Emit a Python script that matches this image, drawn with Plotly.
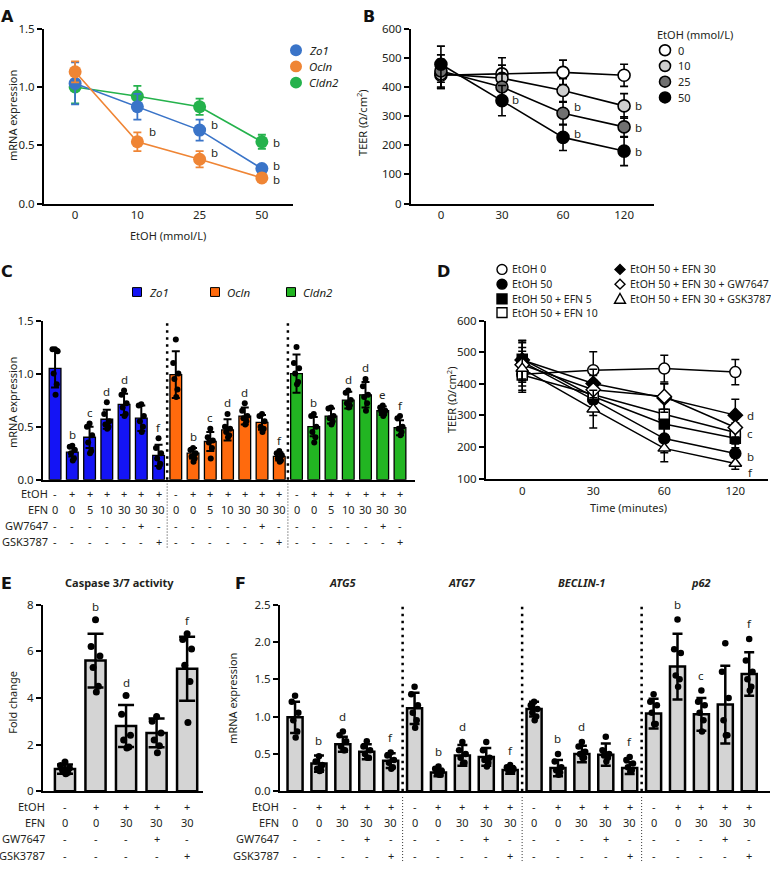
import plotly.graph_objects as go

W, H = 771, 870
FONT = "Noto Sans"
INK = "#231f20"


def px(x):
    return x / W


def py(y):
    return 1 - y / H


# ---------------- data ----------------
# Panel A
A_doses = ["0", "10", "25", "50"]
A_zo1 = [1.03, 0.83, 0.63, 0.30]
A_zo1_sd = [0.18, 0.11, 0.09, 0.02]
A_ocln = [1.13, 0.53, 0.38, 0.22]
A_ocln_sd = [0.09, 0.08, 0.07, 0.02]
A_cldn2 = [1.00, 0.92, 0.83, 0.53]
A_cldn2_sd = [0.14, 0.09, 0.07, 0.06]
A_sig = [("Ocln", 1, "b"), ("Zo1", 2, "b"), ("Ocln", 2, "b"),
         ("Cldn2", 3, "b"), ("Zo1", 3, "b"), ("Ocln", 3, "b")]

# Panel B
B_times = ["0", "30", "60", "120"]
B_doses = ["0", "10", "25", "50"]
B_teer_0 = [440, 445, 450, 440]
B_teer_0_sd = [45, 55, 42, 38]
B_teer_10 = [445, 430, 388, 335]
B_teer_10_sd = [50, 45, 40, 42]
B_teer_25 = [455, 400, 310, 263]
B_teer_25_sd = [55, 45, 40, 35]
B_teer_50 = [478, 353, 227, 180]
B_teer_50_sd = [62, 52, 45, 50]
B_sig = [("50", 1, "b"), ("25", 2, "b"), ("50", 2, "b"),
         ("10", 3, "b"), ("25", 3, "b"), ("50", 3, "b")]

# Panel C
C_genes = ["Zo1", "Ocln", "Cldn2"]
C_zo1_mean = [1.05, 0.26, 0.40, 0.57, 0.71, 0.58, 0.23]
C_zo1_sd = [0.18, 0.04, 0.10, 0.09, 0.10, 0.12, 0.10]
C_zo1_pts = [[1.23, 1.23, 1.21, 1.0, 0.9, 0.8], [0.32, 0.31, 0.28, 0.25, 0.2, 0.18],
             [0.53, 0.5, 0.42, 0.35, 0.27, 0.25], [0.73, 0.62, 0.55, 0.52, 0.5, 0.48],
             [0.84, 0.8, 0.72, 0.68, 0.62, 0.6], [0.71, 0.7, 0.6, 0.55, 0.5, 0.45],
             [0.39, 0.3, 0.25, 0.2, 0.15, 0.12]]
C_zo1_sig = ["", "b", "c", "d", "d", "", "f"]
C_ocln_mean = [0.99, 0.25, 0.36, 0.47, 0.60, 0.54, 0.22]
C_ocln_sd = [0.22, 0.05, 0.09, 0.10, 0.08, 0.07, 0.04]
C_ocln_pts = [[1.32, 1.1, 1.0, 0.95, 0.85, 0.78], [0.3, 0.28, 0.25, 0.22, 0.2, 0.17],
              [0.48, 0.4, 0.37, 0.35, 0.3, 0.2], [0.62, 0.5, 0.48, 0.45, 0.42, 0.4],
              [0.72, 0.65, 0.6, 0.58, 0.55, 0.52], [0.62, 0.6, 0.55, 0.5, 0.48, 0.45],
              [0.27, 0.25, 0.23, 0.2, 0.18, 0.17]]
C_ocln_sig = ["", "b", "c", "d", "d", "", "f"]
C_cldn2_mean = [1.00, 0.50, 0.60, 0.75, 0.80, 0.65, 0.49]
C_cldn2_sd = [0.18, 0.09, 0.07, 0.08, 0.12, 0.04, 0.07]
C_cldn2_pts = [[1.25, 1.1, 1.05, 1.0, 0.92, 0.9], [0.62, 0.6, 0.5, 0.45, 0.4, 0.35],
               [0.68, 0.67, 0.6, 0.58, 0.55, 0.52], [0.84, 0.82, 0.75, 0.72, 0.7, 0.68],
               [0.95, 0.88, 0.8, 0.78, 0.72, 0.65], [0.7, 0.68, 0.65, 0.64, 0.62, 0.6],
               [0.6, 0.58, 0.5, 0.48, 0.45, 0.42]]
C_cldn2_sig = ["", "b", "", "d", "d", "e", "f"]
C_rows = ["EtOH", "EFN", "GW7647", "GSK3787"]
C_treat = {
    "EtOH": ["-", "+", "+", "+", "+", "+", "+"],
    "EFN": ["0", "0", "5", "10", "30", "30", "30"],
    "GW7647": ["-", "-", "-", "-", "-", "+", "-"],
    "GSK3787": ["-", "-", "-", "-", "-", "-", "+"],
}

# Panel D
D_times = ["0", "30", "60", "120"]
D_names = ["EtOH 0", "EtOH 50", "EtOH 50 + EFN 5", "EtOH 50 + EFN 10",
           "EtOH 50 + EFN 30", "EtOH 50 + EFN 30 + GW7647", "EtOH 50 + EFN 30 + GSK3787"]
D_etoh0 = [430, 443, 448, 437]
D_etoh0_sd = [50, 58, 42, 40]
D_etoh50 = [470, 350, 227, 180]
D_etoh50_sd = [60, 50, 45, 30]
D_efn5 = [478, 360, 273, 228]
D_efn5_sd = [60, 45, 40, 30]
D_efn10 = [428, 367, 304, 246]
D_efn10_sd = [55, 45, 40, 30]
D_efn30 = [475, 401, 355, 301]
D_efn30_sd = [60, 45, 45, 50]
D_gw = [460, 381, 360, 262]
D_gw_sd = [55, 45, 40, 30]
D_gsk = [448, 320, 196, 148]
D_gsk_sd = [55, 60, 42, 18]
D_sig = [("EtOH 50 + EFN 30", "d"), ("EtOH 50 + EFN 30 + GW7647", "c"),
         ("EtOH 50", "b"), ("EtOH 50 + EFN 30 + GSK3787", "f")]

# Panel E
E_mean = [0.95, 5.6, 2.8, 2.5, 5.25]
E_sd = [0.2, 1.15, 0.9, 0.62, 1.37]
E_pts = [[1.25, 1.1, 1.0, 0.9, 0.8, 0.75], [7.35, 6.2, 5.8, 5.3, 4.5, 4.25],
         [4.1, 3.3, 2.4, 2.2, 1.9, 1.85], [3.2, 3.0, 2.5, 2.2, 1.95, 1.65],
         [6.75, 6.5, 6.1, 5.4, 4.7, 2.95]]
E_sig = ["", "b", "d", "", "f"]
EF_treat = {
    "EtOH": ["-", "+", "+", "+", "+"],
    "EFN": ["0", "0", "30", "30", "30"],
    "GW7647": ["-", "-", "-", "+", "-"],
    "GSK3787": ["-", "-", "-", "-", "+"],
}

# Panel F
F_genes = ["ATG5", "ATG7", "BECLIN-1", "p62"]
F_atg5_mean = [0.99, 0.37, 0.63, 0.53, 0.41]
F_atg5_sd = [0.21, 0.11, 0.10, 0.10, 0.10]
F_atg5_pts = [[1.28, 1.2, 1.05, 0.95, 0.8, 0.72], [0.47, 0.4, 0.35, 0.3, 0.28, 0.27],
              [0.8, 0.75, 0.67, 0.6, 0.55, 0.55], [0.67, 0.6, 0.55, 0.5, 0.45, 0.45],
              [0.52, 0.48, 0.42, 0.38, 0.32, 0.3]]
F_atg5_sig = ["", "b", "d", "", "f"]
F_atg7_mean = [1.11, 0.25, 0.48, 0.46, 0.285]
F_atg7_sd = [0.21, 0.05, 0.14, 0.12, 0.05]
F_atg7_pts = [[1.4, 1.3, 1.15, 1.05, 0.95, 0.85], [0.33, 0.3, 0.27, 0.25, 0.22, 0.22],
              [0.66, 0.55, 0.5, 0.45, 0.38, 0.37], [0.66, 0.55, 0.45, 0.42, 0.38, 0.33],
              [0.35, 0.32, 0.3, 0.28, 0.27, 0.26]]
F_atg7_sig = ["", "b", "d", "", "f"]
F_beclin_mean = [1.10, 0.31, 0.50, 0.49, 0.31]
F_beclin_sd = [0.10, 0.11, 0.11, 0.15, 0.08]
F_beclin_pts = [[1.2, 1.15, 1.1, 1.05, 1.0, 0.95], [0.5, 0.4, 0.32, 0.28, 0.25, 0.22],
                [0.66, 0.6, 0.53, 0.5, 0.45, 0.45], [0.73, 0.55, 0.5, 0.48, 0.45, 0.4],
                [0.46, 0.42, 0.37, 0.32, 0.28, 0.26]]
F_beclin_sig = ["", "b", "d", "", "f"]
F_p62_mean = [1.04, 1.67, 1.03, 1.16, 1.57]
F_p62_sd = [0.20, 0.44, 0.22, 0.52, 0.29]
F_p62_pts = [[1.3, 1.2, 1.15, 1.05, 0.9, 0.9], [2.3, 1.9, 1.85, 1.55, 1.5, 1.4],
             [1.35, 1.2, 1.15, 1.05, 0.95, 0.8], [1.98, 1.6, 1.25, 0.95, 0.75, 0.75],
             [2.04, 1.75, 1.6, 1.5, 1.4, 1.35]]
F_p62_sig = ["", "b", "c", "", "f"]

# ---------------- styles ----------------
A_colors = {"Zo1": "#3a74c8", "Ocln": "#ef8535", "Cldn2": "#25b24c"}
A_sig_shift = {("Ocln", 1): 10, ("Zo1", 2): 6, ("Ocln", 2): 7, ("Cldn2", 3): -1,
               ("Zo1", 3): 3, ("Ocln", 3): -2}
B_fill = {"0": "white", "10": "#cfcfcf", "25": "#707070", "50": "black"}
B_sig_shift = {("50", 1): 1, ("25", 2): 7, ("50", 2): 4, ("10", 3): 0, ("25", 3): -1, ("50", 3): 0}
C_colors = {"Zo1": "#1414f5", "Ocln": "#ff6a0d", "Cldn2": "#22b522"}
D_style = {
    "EtOH 0": ("circle", "white", 11),
    "EtOH 50": ("circle", "black", 11),
    "EtOH 50 + EFN 5": ("square", "black", 10),
    "EtOH 50 + EFN 10": ("square", "white", 10),
    "EtOH 50 + EFN 30": ("diamond", "black", 11),
    "EtOH 50 + EFN 30 + GW7647": ("diamond", "white", 11),
    "EtOH 50 + EFN 30 + GSK3787": ("triangle-up", "white", 11),
}
D_sig_shift = {"d": 0, "c": -6, "b": -3, "f": -9}
GREY = "#d4d4d4"
JIT = [0.0, -0.22, 0.22, -0.12, 0.14, 0.04]
FS = 11
TICK_FS = 11.5

fig = go.Figure()
annots = []
shapes = []


def text(x, y, s, size=FS, xanchor="center", xref="paper", yref="paper", angle=0,
         bold=False, italic=False, color=INK, xshift=0, yshift=0, yanchor="middle", family=FONT):
    if bold:
        s = "<b>" + s + "</b>"
    if italic:
        s = "<i>" + s + "</i>"
    annots.append(dict(x=x, y=y, xref=xref, yref=yref, text=s, showarrow=False,
                       xanchor=xanchor, yanchor=yanchor, textangle=angle,
                       xshift=xshift, yshift=yshift,
                       font=dict(family=family, size=size, color=color)))


axes = {}


def make_axes(n, xd, yd, xr, yr, yt, yfmt, xt=None, xtt=None):
    sx = "" if n == 1 else str(n)
    xa = dict(domain=[px(xd[0]), px(xd[1])], range=xr, anchor="y" + sx, showgrid=False,
              zeroline=False, showline=True, linecolor="black", linewidth=2, ticks="",
              fixedrange=True)
    if xt is not None:
        xa.update(tickmode="array", tickvals=xt, ticktext=xtt,
                  tickfont=dict(size=TICK_FS, color=INK, family=FONT))
    else:
        xa.update(showticklabels=False)
    ya = dict(domain=[py(yd[1]), py(yd[0])], range=yr, anchor="x" + sx, showgrid=False,
              zeroline=False, showline=True, linecolor="black", linewidth=2,
              ticks="outside", ticklen=5, tickwidth=2, tickcolor="black",
              tickmode="array", tickvals=yt, tickformat=yfmt, fixedrange=True,
              tickfont=dict(size=TICK_FS, color=INK, family=FONT))
    axes["xaxis" + sx] = xa
    axes["yaxis" + sx] = ya


make_axes(1, (44, 293), (21, 199), [-0.5, 3.5], [0, 1.5], [0, 0.5, 1.0, 1.5], ".1f",
          list(range(4)), A_doses)
make_axes(2, (411, 654), (21, 199), [-0.49, 3.49], [0, 600], list(range(0, 601, 100)), "d",
          list(range(4)), B_times)
make_axes(3, (43, 415), (318, 480), [-0.70, 20.87], [0, 1.5], [0, 0.5, 1.0, 1.5], ".1f")
make_axes(4, (486, 768), (318, 479), [-0.51, 3.46], [100, 600], list(range(100, 601, 100)), "d",
          list(range(4)), D_times)
make_axes(5, (43, 203), (607, 797), [-0.72, 4.52], [0, 8], [0, 2, 4, 6, 8], "d")
make_axes(6, (280, 770), (607, 797), [-0.63, 19.87], [0, 2.5], [0, 0.5, 1.0, 1.5, 2.0, 2.5], ".1f")

# ---------------- Panel A ----------------
A_series = {"Zo1": (A_zo1, A_zo1_sd), "Ocln": (A_ocln, A_ocln_sd), "Cldn2": (A_cldn2, A_cldn2_sd)}
for name in ["Cldn2", "Zo1", "Ocln"]:
    vals, sd = A_series[name]
    c = A_colors[name]
    fig.add_trace(go.Scatter(x=list(range(4)), y=vals, mode="lines+markers",
                             error_y=dict(type="data", array=sd, color=c, thickness=1.8, width=4),
                             marker=dict(size=13, color=c), line=dict(color=c, width=1.6),
                             xaxis="x", yaxis="y", showlegend=False))
for name, i, s in A_sig:
    text(i, A_series[name][0][i], s, size=11.5, xref="x", yref="y", xshift=15,
         yshift=A_sig_shift[(name, i)])
for k, name in enumerate(["Zo1", "Ocln", "Cldn2"]):
    cy = 43 + 16.5 * k
    shapes.append(dict(type="circle", xref="paper", yref="paper", x0=px(290), x1=px(302),
                       y0=py(cy + 6), y1=py(cy - 6), fillcolor=A_colors[name],
                       line=dict(width=0)))
    text(px(307), py(cy), name, size=11.5, xanchor="left", italic=True)
text(px(12), py(110), "mRNA expression", angle=-90)
text(px(168), py(231), "EtOH (mmol/L)")

# ---------------- Panel B ----------------
B_series = {"0": (B_teer_0, B_teer_0_sd), "10": (B_teer_10, B_teer_10_sd),
            "25": (B_teer_25, B_teer_25_sd), "50": (B_teer_50, B_teer_50_sd)}
for d in B_doses:
    vals, sd = B_series[d]
    fig.add_trace(go.Scatter(x=list(range(4)), y=vals, mode="lines+markers",
                             error_y=dict(type="data", array=sd, color="black", thickness=1.6, width=4),
                             marker=dict(size=12, color=B_fill[d], line=dict(color="black", width=1.6)),
                             line=dict(color="black", width=1.6),
                             xaxis="x2", yaxis="y2", showlegend=False))
for d, i, s in B_sig:
    text(i, B_series[d][0][i], s, size=11.5, xref="x2", yref="y2", xshift=14,
         yshift=B_sig_shift[(d, i)])
text(px(655), py(27), "EtOH (mmol/L)", xanchor="left")
for k, d in enumerate(B_doses):
    cy = 43 + 16 * k
    shapes.append(dict(type="circle", xref="paper", yref="paper", x0=px(659.5), x1=px(670.5),
                       y0=py(cy + 5.5), y1=py(cy - 5.5), fillcolor=B_fill[d],
                       line=dict(color="black", width=1.6)))
    text(px(676), py(cy), d, xanchor="left")
text(px(362), py(117), "TEER (Ω/cm<sup>2</sup>)", angle=-90)


# ---------------- bar panel helper ----------------
def bar_group(xa, ya, pos, mean, sd, pts, sig, color, width, lw, eth, ew, dsize, sigshift, sigsize):
    fig.add_trace(go.Bar(x=pos, y=mean, width=width, xaxis=xa, yaxis=ya, showlegend=False,
                         marker=dict(color=color, line=dict(color="black", width=lw)),
                         error_y=dict(type="data", array=sd, color="black", thickness=eth, width=ew)))
    dx, dy = [], []
    for p, vals in zip(pos, pts):
        for k, v in enumerate(vals):
            dx.append(p + JIT[k % len(JIT)] * width)
            dy.append(v)
    fig.add_trace(go.Scatter(x=dx, y=dy, mode="markers", xaxis=xa, yaxis=ya, showlegend=False,
                             marker=dict(size=dsize, color="black")))
    for p, m, s, vals, lab in zip(pos, mean, sd, pts, sig):
        if lab:
            top = max(m + s, max(vals))
            text(p, top, lab, size=sigsize, xref=xa, yref=ya, yshift=sigshift)


# ---------------- Panel C ----------------
C_data = {"Zo1": (C_zo1_mean, C_zo1_sd, C_zo1_pts, C_zo1_sig),
          "Ocln": (C_ocln_mean, C_ocln_sd, C_ocln_pts, C_ocln_sig),
          "Cldn2": (C_cldn2_mean, C_cldn2_sd, C_cldn2_pts, C_cldn2_sig)}
for g, name in enumerate(C_genes):
    mean, sd, pts, sig = C_data[name]
    pos = [g * 7 + i for i in range(len(mean))]
    bar_group("x3", "y3", pos, mean, sd, pts, sig, C_colors[name], 0.68, 1.3, 2, 4, 6, 11, 11.5)
    for r, row in enumerate(C_rows):
        for i, v in enumerate(C_treat[row]):
            text(pos[i], py(494 + 16.4 * r), v, xref="x3")
for r, row in enumerate(C_rows):
    text(px(50), py(494 + 16.4 * r), row, xanchor="right")
for sx in [6.5, 13.5]:
    shapes.append(dict(type="line", xref="x3", yref="paper", x0=sx, x1=sx, y0=py(480), y1=py(318),
                       line=dict(color="black", width=2.5, dash="2.5px,4.5px")))
    shapes.append(dict(type="line", xref="x3", yref="paper", x0=sx, x1=sx, y0=py(549), y1=py(484),
                       line=dict(color="#333333", width=1, dash="1px,2px")))
for k, (name, lx) in enumerate(zip(C_genes, [137, 215, 291])):
    shapes.append(dict(type="rect", xref="paper", yref="paper", x0=px(lx - 4.5), x1=px(lx + 4.5),
                       y0=py(289 + 4.5), y1=py(289 - 4.5), fillcolor=C_colors[name],
                       line=dict(color="black", width=1)))
    text(px(lx + 10), py(289), name, size=11.5, xanchor="left", italic=True)
text(px(12), py(402), "mRNA expression", angle=-90)

# ---------------- Panel D ----------------
D_data = {"EtOH 0": (D_etoh0, D_etoh0_sd), "EtOH 50": (D_etoh50, D_etoh50_sd),
          "EtOH 50 + EFN 5": (D_efn5, D_efn5_sd), "EtOH 50 + EFN 10": (D_efn10, D_efn10_sd),
          "EtOH 50 + EFN 30": (D_efn30, D_efn30_sd), "EtOH 50 + EFN 30 + GW7647": (D_gw, D_gw_sd),
          "EtOH 50 + EFN 30 + GSK3787": (D_gsk, D_gsk_sd)}
for name in D_names:
    vals, sd = D_data[name]
    sym, fill, size = D_style[name]
    fig.add_trace(go.Scatter(x=list(range(4)), y=vals, mode="lines+markers",
                             error_y=dict(type="data", array=sd, color="black", thickness=1.5, width=4),
                             marker=dict(size=size, symbol=sym, color=fill, line=dict(color="black", width=1.5)),
                             line=dict(color="black", width=1.5),
                             xaxis="x4", yaxis="y4", showlegend=False))
for name, s in D_sig:
    text(3, D_data[name][0][3], s, size=11.5, xref="x4", yref="y4", xshift=15, yshift=D_sig_shift[s])


def legend_symbol(sym, fill, cx, cy, r=5):
    base = dict(xref="paper", yref="paper", fillcolor=fill, line=dict(color="black", width=1.4))
    if sym == "circle":
        shapes.append(dict(type="circle", x0=px(cx - r), x1=px(cx + r), y0=py(cy + r), y1=py(cy - r), **base))
    elif sym == "square":
        shapes.append(dict(type="rect", x0=px(cx - r), x1=px(cx + r), y0=py(cy + r), y1=py(cy - r), **base))
    elif sym == "diamond":
        path = "M {},{} L {},{} L {},{} L {},{} Z".format(px(cx), py(cy - r), px(cx + r), py(cy),
                                                         px(cx), py(cy + r), px(cx - r), py(cy))
        shapes.append(dict(type="path", path=path, **base))
    else:
        path = "M {},{} L {},{} L {},{} Z".format(px(cx), py(cy - r - 0.5), px(cx + r + 0.5), py(cy + r - 0.5),
                                                 px(cx - r - 0.5), py(cy + r - 0.5))
        shapes.append(dict(type="path", path=path, **base))


D_leg_pos = [(502, 266), (502, 281), (502, 296), (502, 310), (620, 266), (620, 281), (620, 296)]
for name, (lx, ly) in zip(D_names, D_leg_pos):
    sym, fill, _ = D_style[name]
    legend_symbol(sym, fill, lx, ly)
    text(px(lx + 8), py(ly), name, size=10.5, xanchor="left")
text(px(452), py(399), "TEER (Ω/cm<sup>2</sup>)", angle=-90)
text(px(628), py(508), "Time (minutes)")

# ---------------- Panel E ----------------
bar_group("x5", "y5", list(range(5)), E_mean, E_sd, E_pts, E_sig, GREY, 0.66, 2.5, 2.5, 8, 7, 13, 11.5)
for r, row in enumerate(C_rows):
    text(px(47), py(812 + 16.7 * r), row, xanchor="right")
    for i, v in enumerate(EF_treat[row]):
        text(i, py(812 + 16.7 * r), v, xref="x5")
text(px(119), py(585), "Caspase 3/7 activity", bold=True)
text(px(13), py(707), "Fold change", angle=-90)

# ---------------- Panel F ----------------
F_data = {"ATG5": (F_atg5_mean, F_atg5_sd, F_atg5_pts, F_atg5_sig),
          "ATG7": (F_atg7_mean, F_atg7_sd, F_atg7_pts, F_atg7_sig),
          "BECLIN-1": (F_beclin_mean, F_beclin_sd, F_beclin_pts, F_beclin_sig),
          "p62": (F_p62_mean, F_p62_sd, F_p62_pts, F_p62_sig)}
for g, name in enumerate(F_genes):
    mean, sd, pts, sig = F_data[name]
    pos = [g * 5 + i for i in range(len(mean))]
    bar_group("x6", "y6", pos, mean, sd, pts, sig, GREY, 0.63, 2.5, 2.5, 5, 6.5, 15, 11.5)
    for r, row in enumerate(C_rows):
        for i, v in enumerate(EF_treat[row]):
            text(pos[i], py(812 + 16.7 * r), v, xref="x6")
    text(pos[2], py(585), name, xref="x6", bold=True, italic=True)
for r, row in enumerate(C_rows):
    text(px(281), py(812 + 16.7 * r), row, xanchor="right")
for sx in [4.5, 9.5, 14.5]:
    shapes.append(dict(type="line", xref="x6", yref="paper", x0=sx, x1=sx, y0=py(797), y1=py(607),
                       line=dict(color="black", width=2.5, dash="2.5px,4.5px")))
    shapes.append(dict(type="line", xref="x6", yref="paper", x0=sx, x1=sx, y0=py(868), y1=py(801),
                       line=dict(color="#333333", width=1, dash="1px,2px")))
text(px(233), py(702), "mRNA expression", angle=-90)

# ---------------- panel letters ----------------
for lab, (lx, ly) in {"A": (7, 9), "B": (369, 9), "C": (7, 268), "D": (444, 268),
                      "E": (6, 586), "F": (240, 586)}.items():
    text(px(lx), py(ly), lab, size=16, bold=True, color="#111111", family="DejaVu Sans")

fig.update_layout(width=W, height=H, margin=dict(l=0, r=0, t=0, b=0),
                  paper_bgcolor="white", plot_bgcolor="white", showlegend=False,
                  bargap=0, font=dict(family=FONT, color=INK),
                  annotations=annots, shapes=shapes, **axes)
fig.write_html("out.html", config={"displayModeBar": False, "staticPlot": True},
               post_script="document.body.style.margin='0px';document.body.style.overflow='hidden';")
